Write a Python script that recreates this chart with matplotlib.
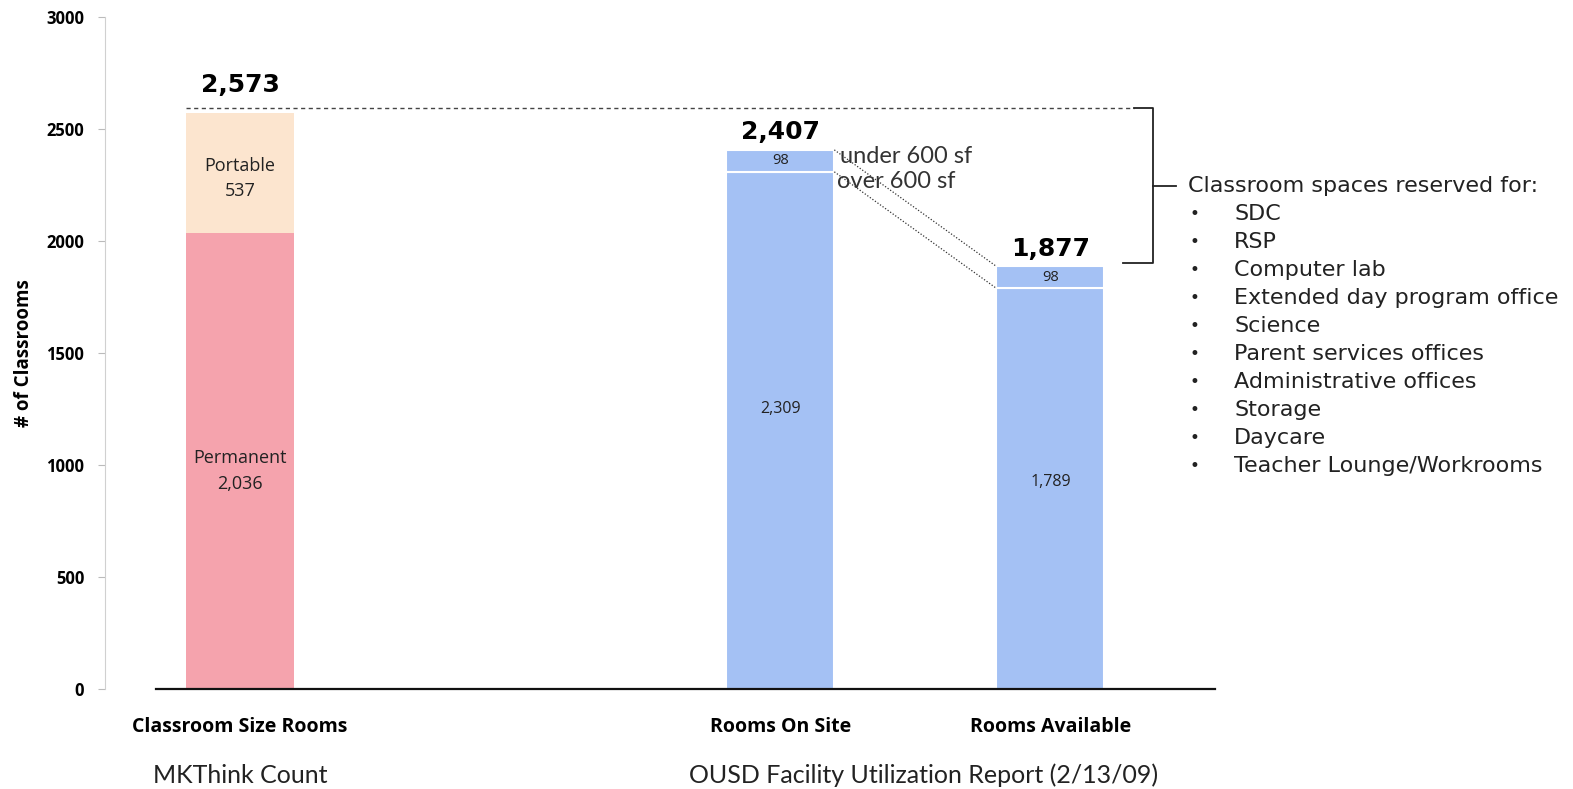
import matplotlib.pyplot as plt
import matplotlib.transforms as mtransforms

# classroom counts per source, stacked bottom / top
categories = ["Classroom Size Rooms", "Rooms On Site", "Rooms Available"]
sources = ["MKThink Count", "OUSD Facility Utilization Report (2/13/09)"]
bottom_vals = [2036, 2309, 1789]
top_vals = [537, 98, 98]
bottom_labels = ["Permanent\n2,036", "2,309", "1,789"]
top_labels = ["Portable\n537", "98", "98"]
total_labels = ["2,573", "2,407", "1,877"]
reserved_for = ["SDC", "RSP", "Computer lab", "Extended day program office",
                "Science", "Parent services offices", "Administrative offices",
                "Storage", "Daycare", "Teacher Lounge/Workrooms"]

xpos = [0, 2, 3]
width = 0.4
bottom_colors = ["#f5a3ad", "#a4c1f4", "#a4c1f4"]
top_colors = ["#fce5cf", "#a4c1f4", "#a4c1f4"]
label_shift = [-45, 95, 30]   # nudge the inner labels like the original layout

fig = plt.figure(figsize=(15.73, 7.89), dpi=100)
ax = fig.add_axes([0.0668, 0.1267, 0.7057, 0.8517])

for i, x in enumerate(xpos):
    ec = "white" if i > 0 else "none"
    ax.bar(x, bottom_vals[i], width, color=bottom_colors[i], edgecolor=ec, linewidth=1.5)
    ax.bar(x, top_vals[i], width, bottom=bottom_vals[i], color=top_colors[i],
           edgecolor=ec, linewidth=1.5)
    ax.text(x, bottom_vals[i] / 2 + label_shift[i], bottom_labels[i], ha="center",
            va="center", fontsize=13 if i == 0 else 11.5, family="Open Sans",
            color="#222222", linespacing=1.55)
    ax.text(x, bottom_vals[i] + top_vals[i] / 2 + (-25 if i == 0 else 0), top_labels[i],
            ha="center", va="center", fontsize=13 if i == 0 else 10.5,
            family="Open Sans", color="#222222", linespacing=1.55)
    total = bottom_vals[i] + top_vals[i]
    ax.text(x, total + (70 if i == 0 else 25), total_labels[i], ha="center",
            va="bottom", fontsize=18, family="DejaVu Sans", fontweight="bold")

# dotted guides between the two OUSD bars
ax.plot([xpos[1] + width / 2, xpos[2] - width / 2],
        [bottom_vals[1] + top_vals[1], bottom_vals[2] + top_vals[2]],
        ls=(0, (1, 1.5)), color="#333333", lw=0.9)
ax.plot([xpos[1] + width / 2, xpos[2] - width / 2],
        [bottom_vals[1], bottom_vals[2]],
        ls=(0, (1, 1.5)), color="#333333", lw=0.9)
ax.text(xpos[1] + width / 2 + 0.02, bottom_vals[1] + top_vals[1] - 30, "under 600 sf",
        ha="left", va="center", fontsize=17, family="Lato", color="#333333")
ax.text(xpos[1] + width / 2 + 0.01, bottom_vals[1] - 45, "over 600 sf",
        ha="left", va="center", fontsize=17, family="Lato", color="#333333")

# dashed reference at the MKThink total and the bracket down to rooms available
top_total = bottom_vals[0] + top_vals[0]
avail_total = bottom_vals[2] + top_vals[2]
bx = 3.38
ax.plot([xpos[0] - width / 2, bx - 0.07], [top_total + 20, top_total + 20],
        ls=(0, (3, 2.5)), color="#444444", lw=1.0, clip_on=False)
ax.plot([bx - 0.07, bx, bx, bx - 0.11], [top_total + 20, top_total + 20,
        avail_total + 15, avail_total + 15], color="#222222", lw=1.3, clip_on=False)
mid = (top_total + avail_total) / 2 + 15
ax.plot([bx, bx + 0.085], [mid, mid], color="#222222", lw=1.3, clip_on=False)

ax.text(bx + 0.13, mid, "Classroom spaces reserved for:", ha="left", va="center",
        fontsize=16, color="#222222")
for k, item in enumerate(reserved_for):
    y = mid - (k + 1) * 125
    ax.text(bx + 0.155, y, "•", ha="center", va="center", fontsize=12, color="#222222")
    ax.text(bx + 0.3, y, item, ha="left", va="center", fontsize=16, color="#222222")

ax.set_xlim(-0.5, 3.61)
ax.set_ylim(0, 3000)
ax.set_yticks([0, 500, 1000, 1500, 2000, 2500, 3000])
ax.tick_params(axis="y", length=5, color="#bbbbbb", labelsize=12, pad=10)
for lab in ax.get_yticklabels():
    lab.set_fontweight("bold")
    lab.set_family("Open Sans")

ax.set_xticks(xpos)
ax.set_xticklabels(categories, fontsize=14, fontweight="bold", family="Open Sans")
ax.tick_params(axis="x", length=0, pad=20)

trans = mtransforms.blended_transform_factory(ax.transData, ax.transAxes)
ax.text(0, -0.128, sources[0], transform=trans, ha="center", va="center",
        fontsize=18, family="Lato", color="#222222")
ax.text(2.53, -0.128, sources[1], transform=trans, ha="center", va="center",
        fontsize=18, family="Lato", color="#222222")

ax.set_ylabel("# of Classrooms", fontsize=13.5, fontweight="bold", family="Open Sans",
              labelpad=9)

for s in ["top", "right", "bottom"]:
    ax.spines[s].set_visible(False)
ax.spines["left"].set_color("#d0d0d0")
ax.plot([-0.31, 3.61], [0, 0], color="#111111", lw=1.6, clip_on=False, zorder=3)

fig.savefig("out.png", dpi=100)
